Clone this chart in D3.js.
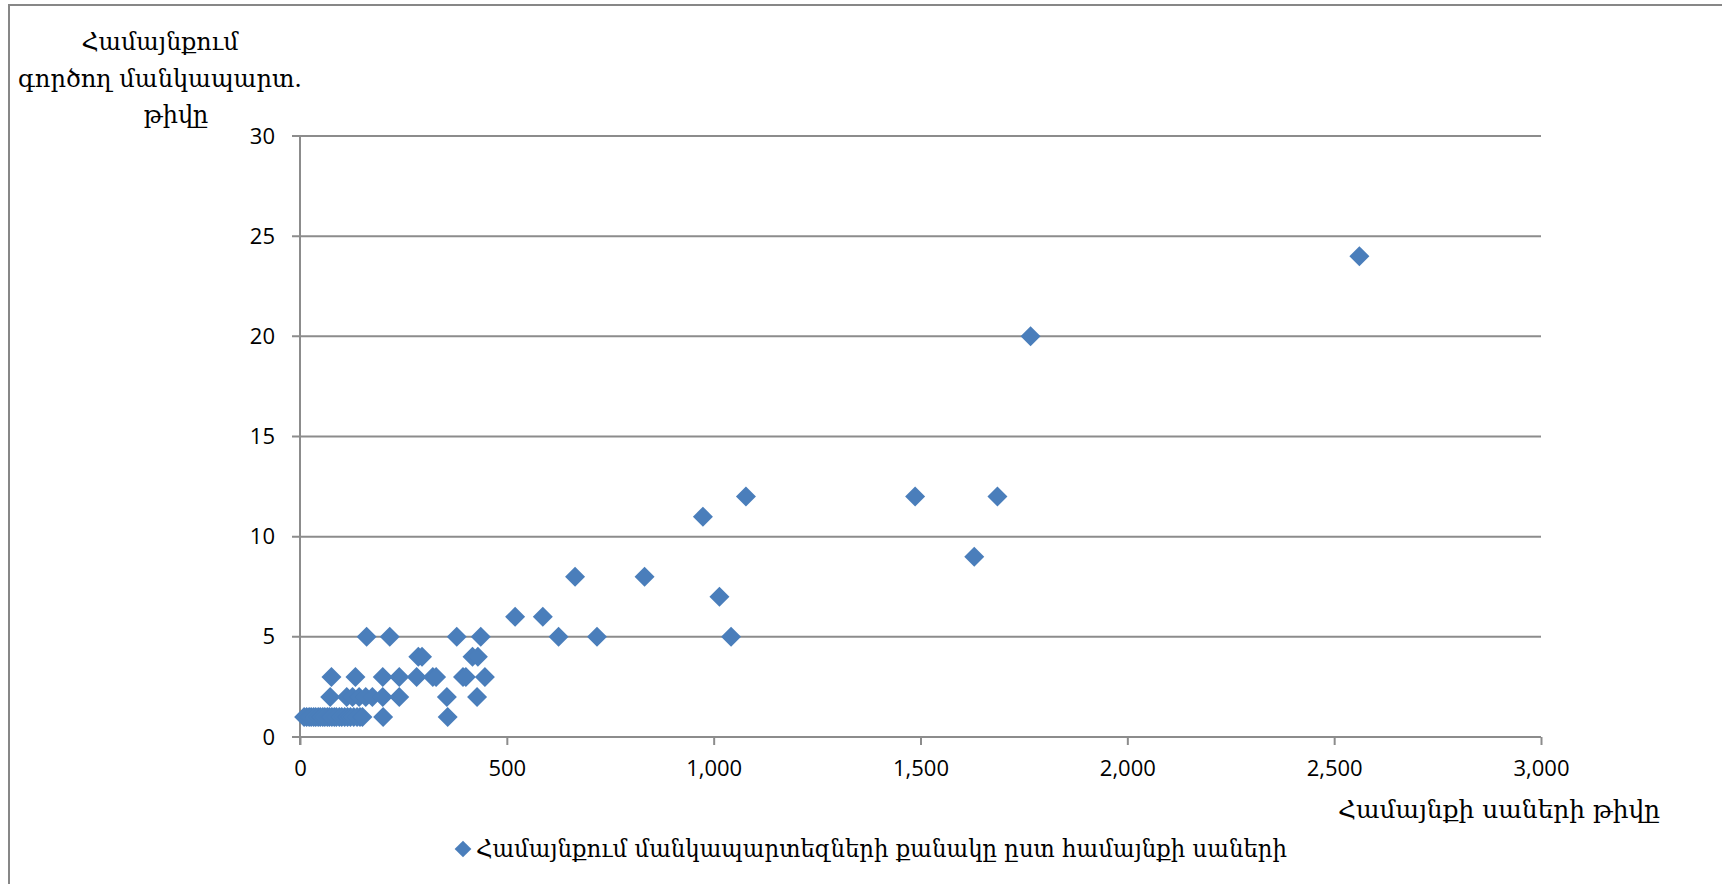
<!DOCTYPE html>
<html>
<head>
<meta charset="utf-8">
<script src="https://cdn.jsdelivr.net/npm/d3@7"></script>
<style>
  body { margin: 0; background: #fff; }
  .tick text { font-family: "Open Sans", sans-serif; font-size: 22px; fill: #000; }
  .arm { font-family: "DejaVu Serif", serif; font-size: 24px; fill: #000; }
</style>
</head>
<body>
<script>
// number of pupils in the community (x) and working kindergartens (y)
var pupils = [
  10, 16, 22, 27, 33, 38, 44, 49, 55, 60, 66, 71, 77, 83, 88, 95, 101, 108, 115, 122, 130, 138, 145, 151, 201, 357,
  73, 113, 127, 143, 159, 175, 200, 240, 355, 428,
  76, 134, 200, 240, 282, 321, 329, 394, 401, 447,
  286, 295, 417, 430,
  161, 217, 379, 437, 625, 718, 1042,
  520, 587,
  1014,
  665, 833,
  1630,
  974,
  1078, 1487, 1686,
  1766,
  2561
];
var kindergartens = [
  1, 1, 1, 1, 1, 1, 1, 1, 1, 1, 1, 1, 1, 1, 1, 1, 1, 1, 1, 1, 1, 1, 1, 1, 1, 1,
  2, 2, 2, 2, 2, 2, 2, 2, 2, 2,
  3, 3, 3, 3, 3, 3, 3, 3, 3, 3,
  4, 4, 4, 4,
  5, 5, 5, 5, 5, 5, 5,
  6, 6,
  7,
  8, 8,
  9,
  11,
  12, 12, 12,
  20,
  24
];
var xTicks = [0, 500, 1000, 1500, 2000, 2500, 3000];
var yTicks = [0, 5, 10, 15, 20, 25, 30];
var yTitle = ["Համայնքում", "գործող մանկապարտ.", "թիվը"];
var xTitle = "Համայնքի սաների թիվը";
var seriesName = "Համայնքում մանկապարտեզների քանակը ըստ համայնքի սաների";

var W = 1722, H = 884;
var plot = {left: 300, right: 1541, top: 136, bottom: 737};
var blue = "#4a7ebb", grey = "#8c8c8c";

var svg = d3.select("body").append("svg")
    .attr("width", W)
    .attr("height", H);

// outer chart border
svg.append("path")
    .attr("d", "M9,900V5H1730")
    .attr("fill", "none")
    .attr("stroke", "#878787")
    .attr("stroke-width", 2);

var x = d3.scaleLinear().domain([0, 3000]).range([plot.left, plot.right]);
var y = d3.scaleLinear().domain([0, 30]).range([plot.bottom, plot.top]);

// gridlines
svg.append("g").selectAll("line")
    .data(yTicks)
    .enter().append("line")
    .attr("x1", plot.left - 8)
    .attr("x2", plot.right)
    .attr("y1", d => y(d))
    .attr("y2", d => y(d))
    .attr("stroke", grey)
    .attr("stroke-width", 2);

// y axis
var yAxis = svg.append("g")
    .attr("transform", "translate(" + plot.left + ",0)")
    .call(d3.axisLeft(y).tickValues(yTicks).tickSize(8).tickPadding(17));
yAxis.select(".domain").remove();
yAxis.selectAll(".tick line").remove();
svg.append("line")
    .attr("x1", plot.left).attr("x2", plot.left)
    .attr("y1", plot.top).attr("y2", plot.bottom + 8)
    .attr("stroke", grey).attr("stroke-width", 2);

// x axis
var xAxis = svg.append("g")
    .attr("transform", "translate(0," + plot.bottom + ")")
    .call(d3.axisBottom(x).tickValues(xTicks).tickSize(8).tickPadding(15).tickFormat(d3.format(",")));
xAxis.select(".domain").remove();
xAxis.selectAll(".tick line").attr("stroke", grey).attr("stroke-width", 2);

// points
var diamond = d3.symbol().type(d3.symbolSquare).size(200);
svg.append("g").selectAll("path")
    .data(pupils.map((p, i) => [p, kindergartens[i]]))
    .enter().append("path")
    .attr("d", diamond)
    .attr("transform", d => "translate(" + x(d[0]) + "," + y(d[1]) + ") rotate(45)")
    .attr("fill", blue);

// y title
var yLines = [[160, 50, 157], [160, 87, 284], [176, 123, null]];
svg.append("g").selectAll("text")
    .data(yTitle)
    .enter().append("text")
    .attr("class", "arm")
    .attr("x", (d, i) => yLines[i][0])
    .attr("y", (d, i) => yLines[i][1])
    .attr("text-anchor", "middle")
    .attr("textLength", (d, i) => yLines[i][2])
    .attr("lengthAdjust", "spacingAndGlyphs")
    .text(d => d);

// x title
svg.append("text")
    .attr("class", "arm")
    .attr("x", 1660)
    .attr("y", 818)
    .attr("text-anchor", "end")
    .attr("textLength", 322)
    .attr("lengthAdjust", "spacingAndGlyphs")
    .text(xTitle);

// legend
svg.append("path")
    .attr("d", d3.symbol().type(d3.symbolSquare).size(140))
    .attr("transform", "translate(463,849) rotate(45)")
    .attr("fill", blue);
svg.append("text")
    .attr("class", "arm")
    .attr("x", 476)
    .attr("y", 857)
    .attr("textLength", 811)
    .attr("lengthAdjust", "spacingAndGlyphs")
    .text(seriesName);
</script>
</body>
</html>
